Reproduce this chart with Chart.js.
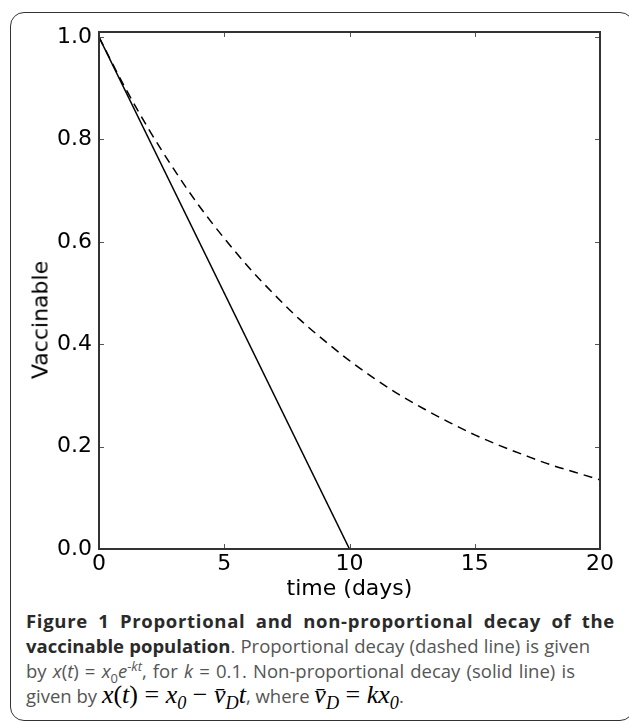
<!DOCTYPE html>
<html>
<head>
<meta charset="utf-8">
<script src="https://cdn.jsdelivr.net/npm/chart.js@4"></script>
<style>
  body { margin: 0; background: #fff; width: 629px; height: 724px; overflow: hidden; position: relative; }
  #frame { position: absolute; left: 10px; top: 12px; width: 624px; height: 709px; border: 1.5px solid #333; border-radius: 14px; box-sizing: border-box; }
  #wrap { position: absolute; left: 0; top: 0; }
  #ylab { position: absolute; left: 40px; top: 320px; transform: translate(-50%, -50%) rotate(-90deg); font: 22px "DejaVu Sans"; color: #000; white-space: nowrap; }
  .cap { position: absolute; left: 26px; font: 18.5px "Open Sans"; line-height: 20px; color: #555; white-space: nowrap; text-align: justify; text-align-last: justify; }
  .cap b { color: #2a2a2a; font-weight: 700; }
  .cap.first b { letter-spacing: 0.7px; }
  .m { font: italic 26px "Liberation Serif"; color: #000; line-height: 0; }
  .m .u { font-style: normal; }
  .cap sub, .cap sup { font-size: 70%; line-height: 0; }
</style>
</head>
<body>
<div id="frame"></div>
<div id="wrap"><canvas id="decayChart" width="629" height="602"></canvas></div>
<div id="ylab">Vaccinable</div>

<div class="cap first" style="top:611px;width:589px"><b>Figure 1 Proportional and non-proportional decay of the</b></div>
<div class="cap" style="top:636px;width:564px"><b>vaccinable population</b>. Proportional decay (dashed line) is given</div>
<div class="cap" style="top:661px;width:549px">by <i>x</i>(<i>t</i>) = <i>x</i><sub>0</sub><i>e</i><sup>-<i>kt</i></sup>, for <i>k</i> = 0.1. Non-proportional decay (solid line) is</div>
<div class="cap" style="top:686px;text-align:left;text-align-last:left">given by <span class="m">x<span class="u">(</span>t<span class="u">)</span> <span class="u">=</span> x<sub>0</sub> <span class="u">−</span> v̄<sub>D</sub>t</span>, where <span class="m">v̄<sub>D</sub> <span class="u">=</span> kx<sub>0</sub></span>.</div>

<script>
// values
const times = [0, 1, 2, 3, 4, 5, 6, 7, 8, 9, 10, 11, 12, 13, 14, 15, 16, 17, 18, 19, 20];
const proportional = [1.000, 0.905, 0.819, 0.741, 0.670, 0.607, 0.549, 0.497, 0.449, 0.407, 0.368, 0.333, 0.301, 0.273, 0.247, 0.223, 0.202, 0.183, 0.165, 0.150, 0.135];
const linearTimes = [0, 10];
const nonProportional = [1.0, 0.0];
const xTickStep = 5;
const yTickStep = 0.2;

const tickFont = { family: "DejaVu Sans", size: 22 };

// matplotlib-style box with inward ticks on all four sides
const boxPlugin = {
    id: "boxTicks",
    afterDraw(chart) {
        const { ctx, chartArea } = chart;
        const { left, right, top, bottom } = chartArea;
        const xs = chart.scales.x, ys = chart.scales.y;
        ctx.save();
        ctx.strokeStyle = "#555";
        ctx.lineWidth = 1;
        ctx.beginPath();
        xs.ticks.forEach(t => {
            const px = Math.round(xs.getPixelForValue(t.value)) + 0.5;
            ctx.moveTo(px, bottom); ctx.lineTo(px, bottom - 5);
            ctx.moveTo(px, top); ctx.lineTo(px, top + 5);
        });
        ys.ticks.forEach(t => {
            const py = Math.round(ys.getPixelForValue(t.value)) + 0.5;
            ctx.moveTo(left, py); ctx.lineTo(left + 5, py);
            ctx.moveTo(right, py); ctx.lineTo(right - 5, py);
        });
        ctx.stroke();
        ctx.strokeStyle = "#333";
        ctx.lineWidth = 2;
        ctx.strokeRect(left, top, right - left, bottom - top);
        ctx.restore();
    },
};

document.addEventListener("DOMContentLoaded", function () {
    const ctx = document.getElementById("decayChart");
    new Chart(ctx, {
        type: "line",
        data: {
            datasets: [
                {
                    label: "Proportional decay",
                    data: times.map((t, i) => ({ x: t, y: proportional[i] })),
                    borderColor: "#000",
                    borderWidth: 1.5,
                    borderDash: [9, 6],
                    pointRadius: 0,
                    cubicInterpolationMode: "monotone",
                    fill: false,
                },
                {
                    label: "Non-proportional decay",
                    data: linearTimes.map((t, i) => ({ x: t, y: nonProportional[i] })),
                    borderColor: "#000",
                    borderWidth: 1.5,
                    pointRadius: 0,
                    fill: false,
                },
            ],
        },
        plugins: [boxPlugin],
        options: {
            responsive: false,
            animation: false,
            devicePixelRatio: 1,
            layout: { padding: { top: 32, right: 29, left: 0, bottom: 0 } },
            plugins: {
                legend: { display: false },
                tooltip: { enabled: false },
            },
            scales: {
                x: {
                    type: "linear",
                    min: 0,
                    max: 20,
                    grid: { display: false, drawTicks: false },
                    border: { display: false },
                    ticks: { stepSize: xTickStep, font: tickFont, color: "#000", padding: 2, maxRotation: 0 },
                    title: { display: true, text: "time (days)", font: tickFont, color: "#000", padding: 0 },
                    afterFit(scale) { scale.height = 53; },
                },
                y: {
                    min: 0,
                    max: 1.01,
                    grid: { display: false, drawTicks: false },
                    border: { display: false },
                    ticks: {
                        stepSize: yTickStep,
                        includeBounds: false,
                        font: tickFont,
                        color: "#000",
                        padding: 7,
                        callback: (v) => v.toFixed(1),
                    },
                    afterFit(scale) { scale.width = 99; },
                },
            },
        },
    });
});
</script>
</body>
</html>
